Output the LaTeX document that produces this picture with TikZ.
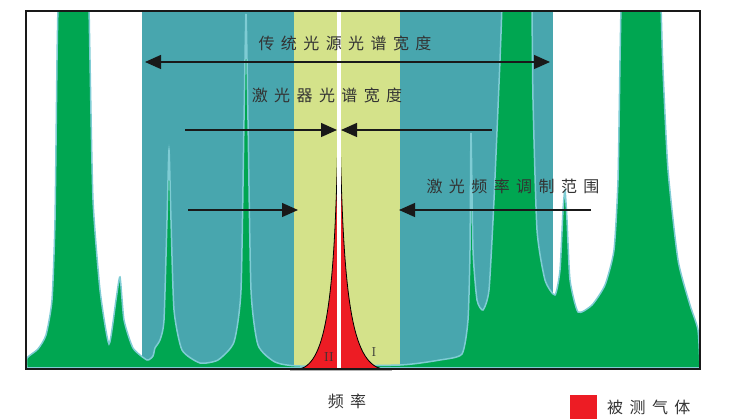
\documentclass[tikz,border=0pt]{standalone}
\usepackage{fontspec}
\newfontfamily\cjk[LetterSpace=40]{Noto Sans CJK SC}
\usetikzlibrary{arrows.meta}
\definecolor{gr}{HTML}{00A651}
\definecolor{teal2}{HTML}{48A6AE}
\definecolor{yel}{HTML}{D4E28A}
\definecolor{lb}{HTML}{7FCCD4}
\definecolor{rd}{HTML}{ED1C24}
\definecolor{tx}{HTML}{333333}
\tikzset{lab/.style={font=\cjk\fontsize{16}{18}\selectfont,text=tx,inner sep=0pt},
arr/.style={line width=1.3pt,-{Triangle[length=16pt,width=14pt]},color=black!90}}
\begin{document}
\begin{tikzpicture}[x=1pt,y=-1pt]
\useasboundingbox (0,0) rectangle (736,419);
\fill[teal2] (142,11) rectangle (553,369);
\fill[yel] (294,11) rectangle (400,369);
\begin{scope}
\clip (26,11) rectangle (700,369);
\draw[fill=gr,draw=lb,line width=1.5pt] plot[smooth,tension=0.35] coordinates{
(27,368) (27,358) (38,349) (46,335) (52,300) (55,220) (57,60) (58,5)} -- (89,5)
 -- plot[smooth,tension=0.35] coordinates{(89,5) (90,60) (93,200) (100,290) (109,344) (116,300) (120,277) (124,320) (133,348) (147,360) (153,356) (155,348) (160,340) (164,320) (167,220) (169,150) (171,220) (174,310) (182,350) (200,363) (218,360) (234,342) (241,290) (244,120) (246,14) (248,120) (251,290) (258,345) (275,362) (300,366) (400,365) (440,360) (462,354) (468,320) (470,250) (471,133) (473,250) (477,300) (483,310) (489,290) (494,200) (500,60) (502,5)} -- (532,5)
 -- plot[smooth,tension=0.35] coordinates{(532,5) (533,100) (537,230) (545,280) (555,295) (560,270) (563,210) (565,190) (567,220) (570,280) (578,312) (592,305) (605,285) (614,250) (618,180) (620,60) (621,5)} -- (661,5)
 -- plot[smooth,tension=0.35] coordinates{(661,5) (663,70) (668,170) (678,260) (690,305) (698,330) (700,368)} -- cycle;
\end{scope}
\fill[black!30] (290,369) rectangle (392,371);
\draw[fill=rd,draw=black,line width=0.8pt] (300,369) .. controls (326,362) and (335,300) .. (338,128) -- (340,128) .. controls (343,300) and (352,362) .. (382,369) -- cycle;
\fill[white] (337,11) rectangle (341,369);
\draw[line width=1.5pt,black!90] (26,11) rectangle (700,369);
\node[lab] (t1) at (345,43) {传统光源光谱宽度};
\node[lab] (t2) at (327,95) {激光器光谱宽度};
\node[lab] (t3) at (513,186) {激光频率调制范围};
\coordinate (a1) at (145,62); \coordinate (a2) at (550,62);
\draw[arr,{Triangle[length=16pt,width=14pt]}-{Triangle[length=16pt,width=14pt]}] (a1) -- (a2);
\coordinate (b1) at (185,130); \coordinate (b2) at (337,130);
\coordinate (c1) at (492,130); \coordinate (c2) at (341,130);
\draw[arr] (b1) -- (b2); \draw[arr] (c1) -- (c2);
\coordinate (d1) at (188,210); \coordinate (d2) at (298,210);
\coordinate (e1) at (591,210); \coordinate (e2) at (399,210);
\draw[arr] (d1) -- (d2); \draw[arr] (e1) -- (e2);
\node[font=\fontsize{13}{13}\selectfont,text=tx] (n2) at (329,357) {II};
\node[font=\fontsize{13}{13}\selectfont,text=tx] (n1) at (374,352) {I};
\node[lab] (f) at (347,401) {频率};
\fill[rd] (570,395) rectangle (597,419);
\node[lab,anchor=west] (lg) at (607,407) {被测气体};
\end{tikzpicture}
\end{document}
